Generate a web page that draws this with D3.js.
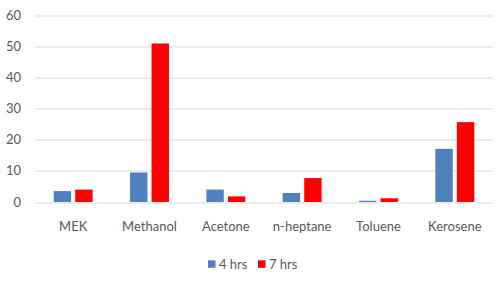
<!DOCTYPE html>
<html>
<head>
<meta charset="utf-8">
<script src="https://cdn.jsdelivr.net/npm/d3@7"></script>
<style>
  html, body { margin: 0; padding: 0; background: #fff; }
  svg text { font-family: Lato, "Open Sans", sans-serif; fill: #595959; }
</style>
</head>
<body>
<div id="chart"></div>
<script>
// data
const categories = ['MEK', 'Methanol', 'Acetone', 'n-heptane', 'Toluene', 'Kerosene'];
const seriesNames = ['4 hrs', '7 hrs'];
const hrs4 = [3.5, 9.5, 4.0, 2.9, 0.4, 17.1];
const hrs7 = [4.0, 51.0, 1.8, 7.7, 1.2, 25.7];
const yTicks = [0, 10, 20, 30, 40, 50, 60];
const colors = ['#4f81bd', '#ff0000'];

const width = 500, height = 281;
const margin = {top: 15.5, right: 7, bottom: 79, left: 35};
const w = width - margin.left - margin.right;
const h = height - margin.top - margin.bottom;

const svg = d3.select('#chart').append('svg')
  .attr('width', width)
  .attr('height', height);

const g = svg.append('g')
  .attr('transform', `translate(${margin.left},${margin.top})`);

const x = d3.scaleBand()
  .domain(categories)
  .range([0, w])
  .paddingInner(0.49)
  .paddingOuter(0.245);

const x1 = d3.scaleBand()
  .domain(seriesNames)
  .range([0, x.bandwidth()])
  .paddingInner(0.19)
  .paddingOuter(0);

const y = d3.scaleLinear()
  .domain([0, 60])
  .range([h, 0]);

// グリッド線
g.append('g')
  .selectAll('line')
  .data(yTicks)
  .enter().append('line')
  .attr('x1', 0)
  .attr('x2', w)
  .attr('y1', d => Math.round(y(d)) + 0.5)
  .attr('y2', d => Math.round(y(d)) + 0.5)
  .attr('stroke', '#d9d9d9')
  .attr('stroke-width', 1);

// y軸ラベル
g.append('g')
  .selectAll('text')
  .data(yTicks)
  .enter().append('text')
  .attr('x', -14)
  .attr('y', d => y(d))
  .attr('dy', '0.35em')
  .attr('text-anchor', 'end')
  .style('font-size', '13px')
  .text(d => d);

// 棒
const rows = categories.map((c, i) => ({cat: c, values: [hrs4[i], hrs7[i]]}));
const groups = g.selectAll('.cat')
  .data(rows)
  .enter().append('g')
  .attr('class', 'cat')
  .attr('transform', d => `translate(${x(d.cat)},0)`);

groups.selectAll('rect')
  .data(d => d.values.map((v, j) => ({name: seriesNames[j], value: v, color: colors[j]})))
  .enter().append('rect')
  .attr('x', d => x1(d.name))
  .attr('width', x1.bandwidth())
  .attr('y', d => y(d.value))
  .attr('height', d => h - y(d.value))
  .attr('fill', d => d.color);

// x軸ラベル
g.append('g')
  .selectAll('text')
  .data(categories)
  .enter().append('text')
  .attr('x', d => x(d) + x.bandwidth() / 2)
  .attr('y', h + 24)
  .attr('dy', '0.35em')
  .attr('text-anchor', 'middle')
  .style('font-size', '13px')
  .text(d => d);

// 凡例
const legend = svg.append('g')
  .attr('transform', 'translate(208,264)');
const legendX = [0, 50];
seriesNames.forEach((s, i) => {
  const item = legend.append('g').attr('transform', `translate(${legendX[i]},0)`);
  item.append('rect')
    .attr('x', 0)
    .attr('y', -3.7)
    .attr('width', 7.5)
    .attr('height', 7.5)
    .attr('fill', colors[i]);
  item.append('text')
    .attr('x', 11)
    .attr('y', 0)
    .attr('dy', '0.35em')
    .style('font-size', '13px')
    .text(s);
});
</script>
</body>
</html>
